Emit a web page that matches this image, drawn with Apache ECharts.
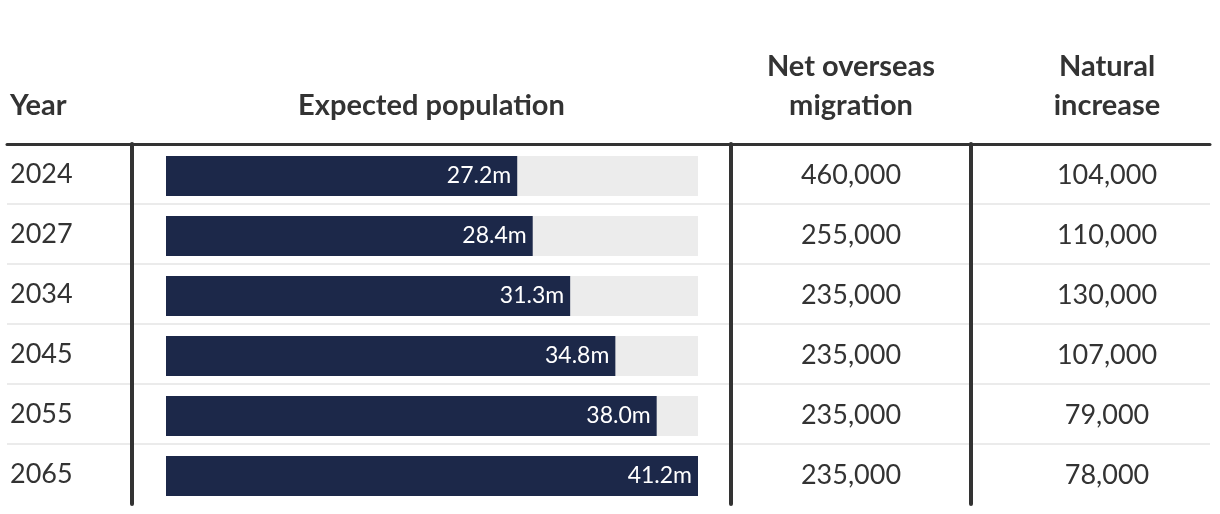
<!DOCTYPE html>
<html>
<head>
<meta charset="utf-8">
<script src="https://cdn.jsdelivr.net/npm/echarts@6/dist/echarts.min.js"></script>
<style>
html,body{margin:0;padding:0;background:#fff;}
#chart{width:1220px;height:514px;}
</style>
</head>
<body>
<div id="chart"></div>
<script>
const years = ['2024', '2027', '2034', '2045', '2055', '2065'];
const population = [27.2, 28.4, 31.3, 34.8, 38.0, 41.2];
const netOverseasMigration = [460000, 255000, 235000, 235000, 235000, 235000];
const naturalIncrease = [104000, 110000, 130000, 107000, 79000, 78000];
const headers = ['Year', 'Expected population', 'Net overseas\nmigration', 'Natural\nincrease'];

const INK = '#333333';
const NAVY = '#1c2849';
const TRACK = '#ececec';
const RULE = '#ebebeb';
const FONT = 'Lato, "Noto Sans", sans-serif';

const chart = echarts.init(document.getElementById('chart'), null, {renderer: 'canvas'});

const headerStyle = {fontFamily: FONT, fontWeight: 'bold', fontSize: 29, lineHeight: 39, color: INK};
const fmt = v => v.toLocaleString('en-US');

function colX(idx, name) {
  return {
    gridIndex: idx, type: 'value', min: 0, max: 1, position: 'top',
    axisLine: {show: false}, axisTick: {show: false}, axisLabel: {show: false}, splitLine: {show: false},
    name: name, nameLocation: 'middle', nameGap: 19, nameTextStyle: headerStyle
  };
}
function colY(idx, withLine, labels) {
  return {
    gridIndex: idx, type: 'category', data: years, inverse: true, position: 'left',
    axisLine: {show: withLine, lineStyle: {color: INK, width: 4}},
    axisTick: {show: false}, splitLine: {show: false},
    axisLabel: labels ? {show: true, align: 'left', margin: 122, fontFamily: FONT, fontSize: 27, color: INK} : {show: false}
  };
}
const hidden = {axisLine: {show: false}, axisTick: {show: false}, axisLabel: {show: false}, splitLine: {show: false}};

const ruleColors = Array.from({length: years.length + 1}, (_, i) =>
  (i === 0 || i === years.length) ? 'rgba(0,0,0,0)' : RULE);

const valueLabel = {show: true, position: 'inside', formatter: p => fmt(p.value[2]),
                    fontFamily: FONT, fontSize: 27, color: INK, offset: [0, 1]};

const option = {
  animation: false,
  backgroundColor: '#ffffff',
  title: {
    text: headers[0], left: 10, top: 86, padding: 0,
    textStyle: headerStyle
  },
  grid: [
    {left: 7, right: 10, top: 144, height: 360, outerBoundsMode: 'none'},            // frame
    {left: 132, width: 599, top: 144, height: 360, outerBoundsMode: 'none'},         // col A
    {left: 731, width: 240, top: 144, height: 360, outerBoundsMode: 'none'},         // col B
    {left: 971, width: 272, top: 144, height: 360, outerBoundsMode: 'none'},         // col C
    {left: 166, width: 532, top: 146, height: 360, outerBoundsMode: 'none'}          // bars
  ],
  xAxis: [
    {gridIndex: 0, type: 'value', min: 0, max: 1, position: 'top', z: 10,
     axisLine: {show: true, lineStyle: {color: INK, width: 3}},
     axisTick: {show: false}, axisLabel: {show: false}, splitLine: {show: false}},
    colX(1, headers[1]),
    colX(2, headers[2]),
    colX(3, headers[3]),
    Object.assign({gridIndex: 4, type: 'value', min: 0, max: 'dataMax'}, hidden)
  ],
  yAxis: [
    {gridIndex: 0, type: 'value', min: 0, max: years.length, interval: 1, inverse: true,
     axisLine: {show: false}, axisTick: {show: false}, axisLabel: {show: false},
     splitLine: {show: true, lineStyle: {color: ruleColors, width: 2}}},
    colY(1, true, true),
    colY(2, true, false),
    colY(3, true, false),
    Object.assign({gridIndex: 4, type: 'category', data: years, inverse: true}, hidden)
  ],
  series: [
    {
      type: 'bar', xAxisIndex: 4, yAxisIndex: 4,
      data: population, barWidth: 40,
      itemStyle: {color: NAVY},
      showBackground: true, backgroundStyle: {color: TRACK, opacity: 1},
      label: {
        show: true, position: 'insideRight', distance: 6,
        formatter: p => p.value.toFixed(1) + 'm',
        fontFamily: FONT, fontSize: 23, color: '#ffffff'
      }
    },
    {
      type: 'scatter', xAxisIndex: 2, yAxisIndex: 2, symbolSize: 0,
      itemStyle: {opacity: 1},
      data: netOverseasMigration.map((v, i) => [0.5, years[i], v]),
      label: valueLabel
    },
    {
      type: 'scatter', xAxisIndex: 3, yAxisIndex: 3, symbolSize: 0,
      itemStyle: {opacity: 1},
      data: naturalIncrease.map((v, i) => [0.5, years[i], v]),
      label: valueLabel
    }
  ]
};
chart.setOption(option);
</script>
</body>
</html>
